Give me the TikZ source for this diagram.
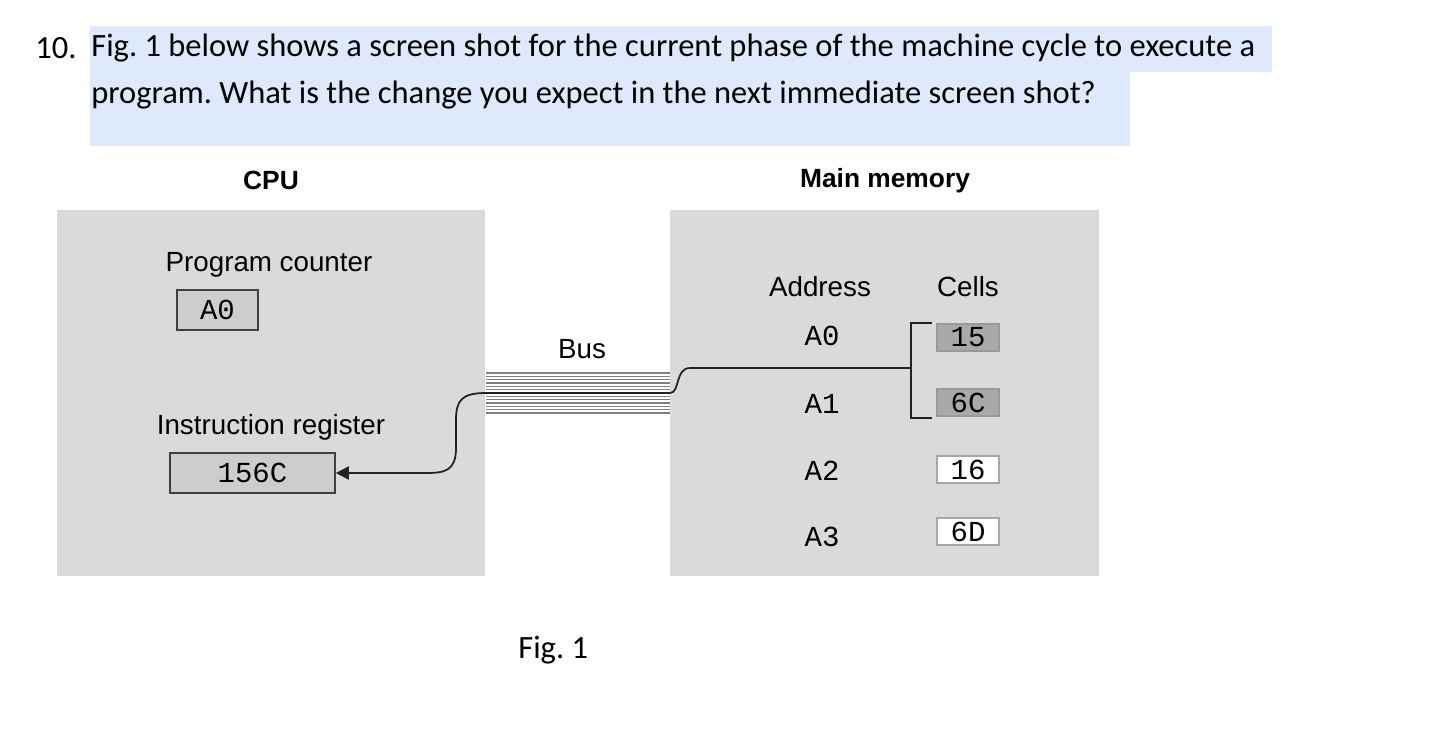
\documentclass[tikz,border=0pt]{standalone}
\usepackage{fontspec}
\setsansfont{Liberation Sans}
\setmonofont{Liberation Mono}
\newfontfamily\qfont{Carlito}
\usepackage{tikz}
\usetikzlibrary{arrows.meta,positioning}
\frenchspacing
\definecolor{hilite}{HTML}{DEE9FB}
\definecolor{panelbg}{HTML}{DADADA}
\definecolor{regfill}{HTML}{CDCDCD}
\definecolor{cellhot}{HTML}{A9A9A9}
\definecolor{wirecol}{HTML}{222222}
\tikzset{
  qtext/.style   ={inner sep=0pt,anchor=west,font=\qfont\fontsize{18.5}{22}\selectfont},
  panel/.style   ={rectangle,fill=panelbg,minimum width=8.57cm,minimum height=7.32cm,inner sep=0pt},
  title/.style   ={font=\sffamily\bfseries\fontsize{15}{18}\selectfont},
  lbl/.style     ={font=\sffamily\fontsize{15.8}{19}\selectfont},
  reg/.style     ={rectangle,draw=black!75,line width=0.9pt,fill=regfill,minimum height=0.8cm,
                   inner sep=0pt,font=\ttfamily\fontsize{16.5}{19}\selectfont},
  addr/.style    ={font=\ttfamily\fontsize{16.5}{19}\selectfont},
  cell/.style    ={rectangle,draw=black!35,line width=0.7pt,fill=white,minimum width=1.24cm,
                   minimum height=0.54cm,inner sep=0pt,font=\ttfamily\fontsize{16.5}{19}\selectfont},
  busline/.style ={gray,line width=0.7pt},
  wire/.style    ={wirecol,line width=1pt},
  arr/.style     ={wire,-{Triangle[length=7.5pt,width=7.5pt]}}
}
\begin{document}
\begin{tikzpicture}[x=0.02cm,y=-0.02cm]
  \useasboundingbox (0,0) rectangle (1456,738);

  % question text
  \fill [hilite] (90,26) rectangle (1272,72);
  \fill [hilite] (90,72) rectangle (1130,146);
  \node (qnum)   [qtext] at (35,48) {10.};
  \node (qline1) [qtext] at (91,48) {Fig. 1 below shows a screen shot for the current phase of the machine cycle to execute a};
  \node (qline2) [qtext] at (91,95) {program. What is the change you expect in the next immediate screen shot?};

  % panels
  \node (cpu) [panel] at (271,393) {};
  \node (mem) [panel] at (884.5,393) {};
  \node (cpulbl) [title] at (271,180) {CPU};
  \node (memlbl) [title] at (885,181) {Main memory};

  % CPU registers
  \node (pclbl) [lbl] at (269,265) {Program counter};
  \node (pc)    [reg, minimum width=1.62cm] at (217.5,310) {A0};
  \node (irlbl) [lbl] at (271,427) {Instruction register};
  \node (ir)    [reg, minimum width=3.3cm] at (252.5,473) {156C};

  % bus
  \node (buslbl) [lbl] at (582,349) {Bus};
  \foreach \k in {-6,...,-1,1,2,...,6}
    \draw [busline] (486,393+\k*3.33) -- (670,393+\k*3.33);
  \coordinate (busL) at (486,393);
  \coordinate (busR) at (670,393);
  \draw [wire] (busL) -- (busR);

  % main memory
  \node (addrlbl) [lbl] at (820,287) {Address};
  \node (celllbl) [lbl] at (968,287) {Cells};
  \node (a0) [addr] at (822,336) {A0};
  \node (a1) [addr] at (822,404) {A1};
  \node (a2) [addr] at (822,471) {A2};
  \node (a3) [addr] at (822,537) {A3};
  \node (c15) [cell, fill=cellhot, draw=black!40] at (968,337.5) {15};
  \node (c6c) [cell, fill=cellhot, draw=black!40] at (968,402.5) {6C};
  \node (c16) [cell] at (968,469.5) {16};
  \node (c6d) [cell] at (968,531.5) {6D};
  \coordinate (brk) at (911,368);

  \draw [wire] (932,323) -- (911,323) -- (911,418) -- (932,418);
  \draw [wire] (busR) .. controls (680,393) and (675,368) .. (690,368) -- (brk);
  \draw [arr] (busL) .. controls (462,393) and (456,400) .. (456,420) -- (456,448)
              .. controls (456,471) and (445,473) .. (425,473) -- (ir.east);

  \node (figcap) [qtext] at (518,650) {Fig. 1};
\end{tikzpicture}
\end{document}
